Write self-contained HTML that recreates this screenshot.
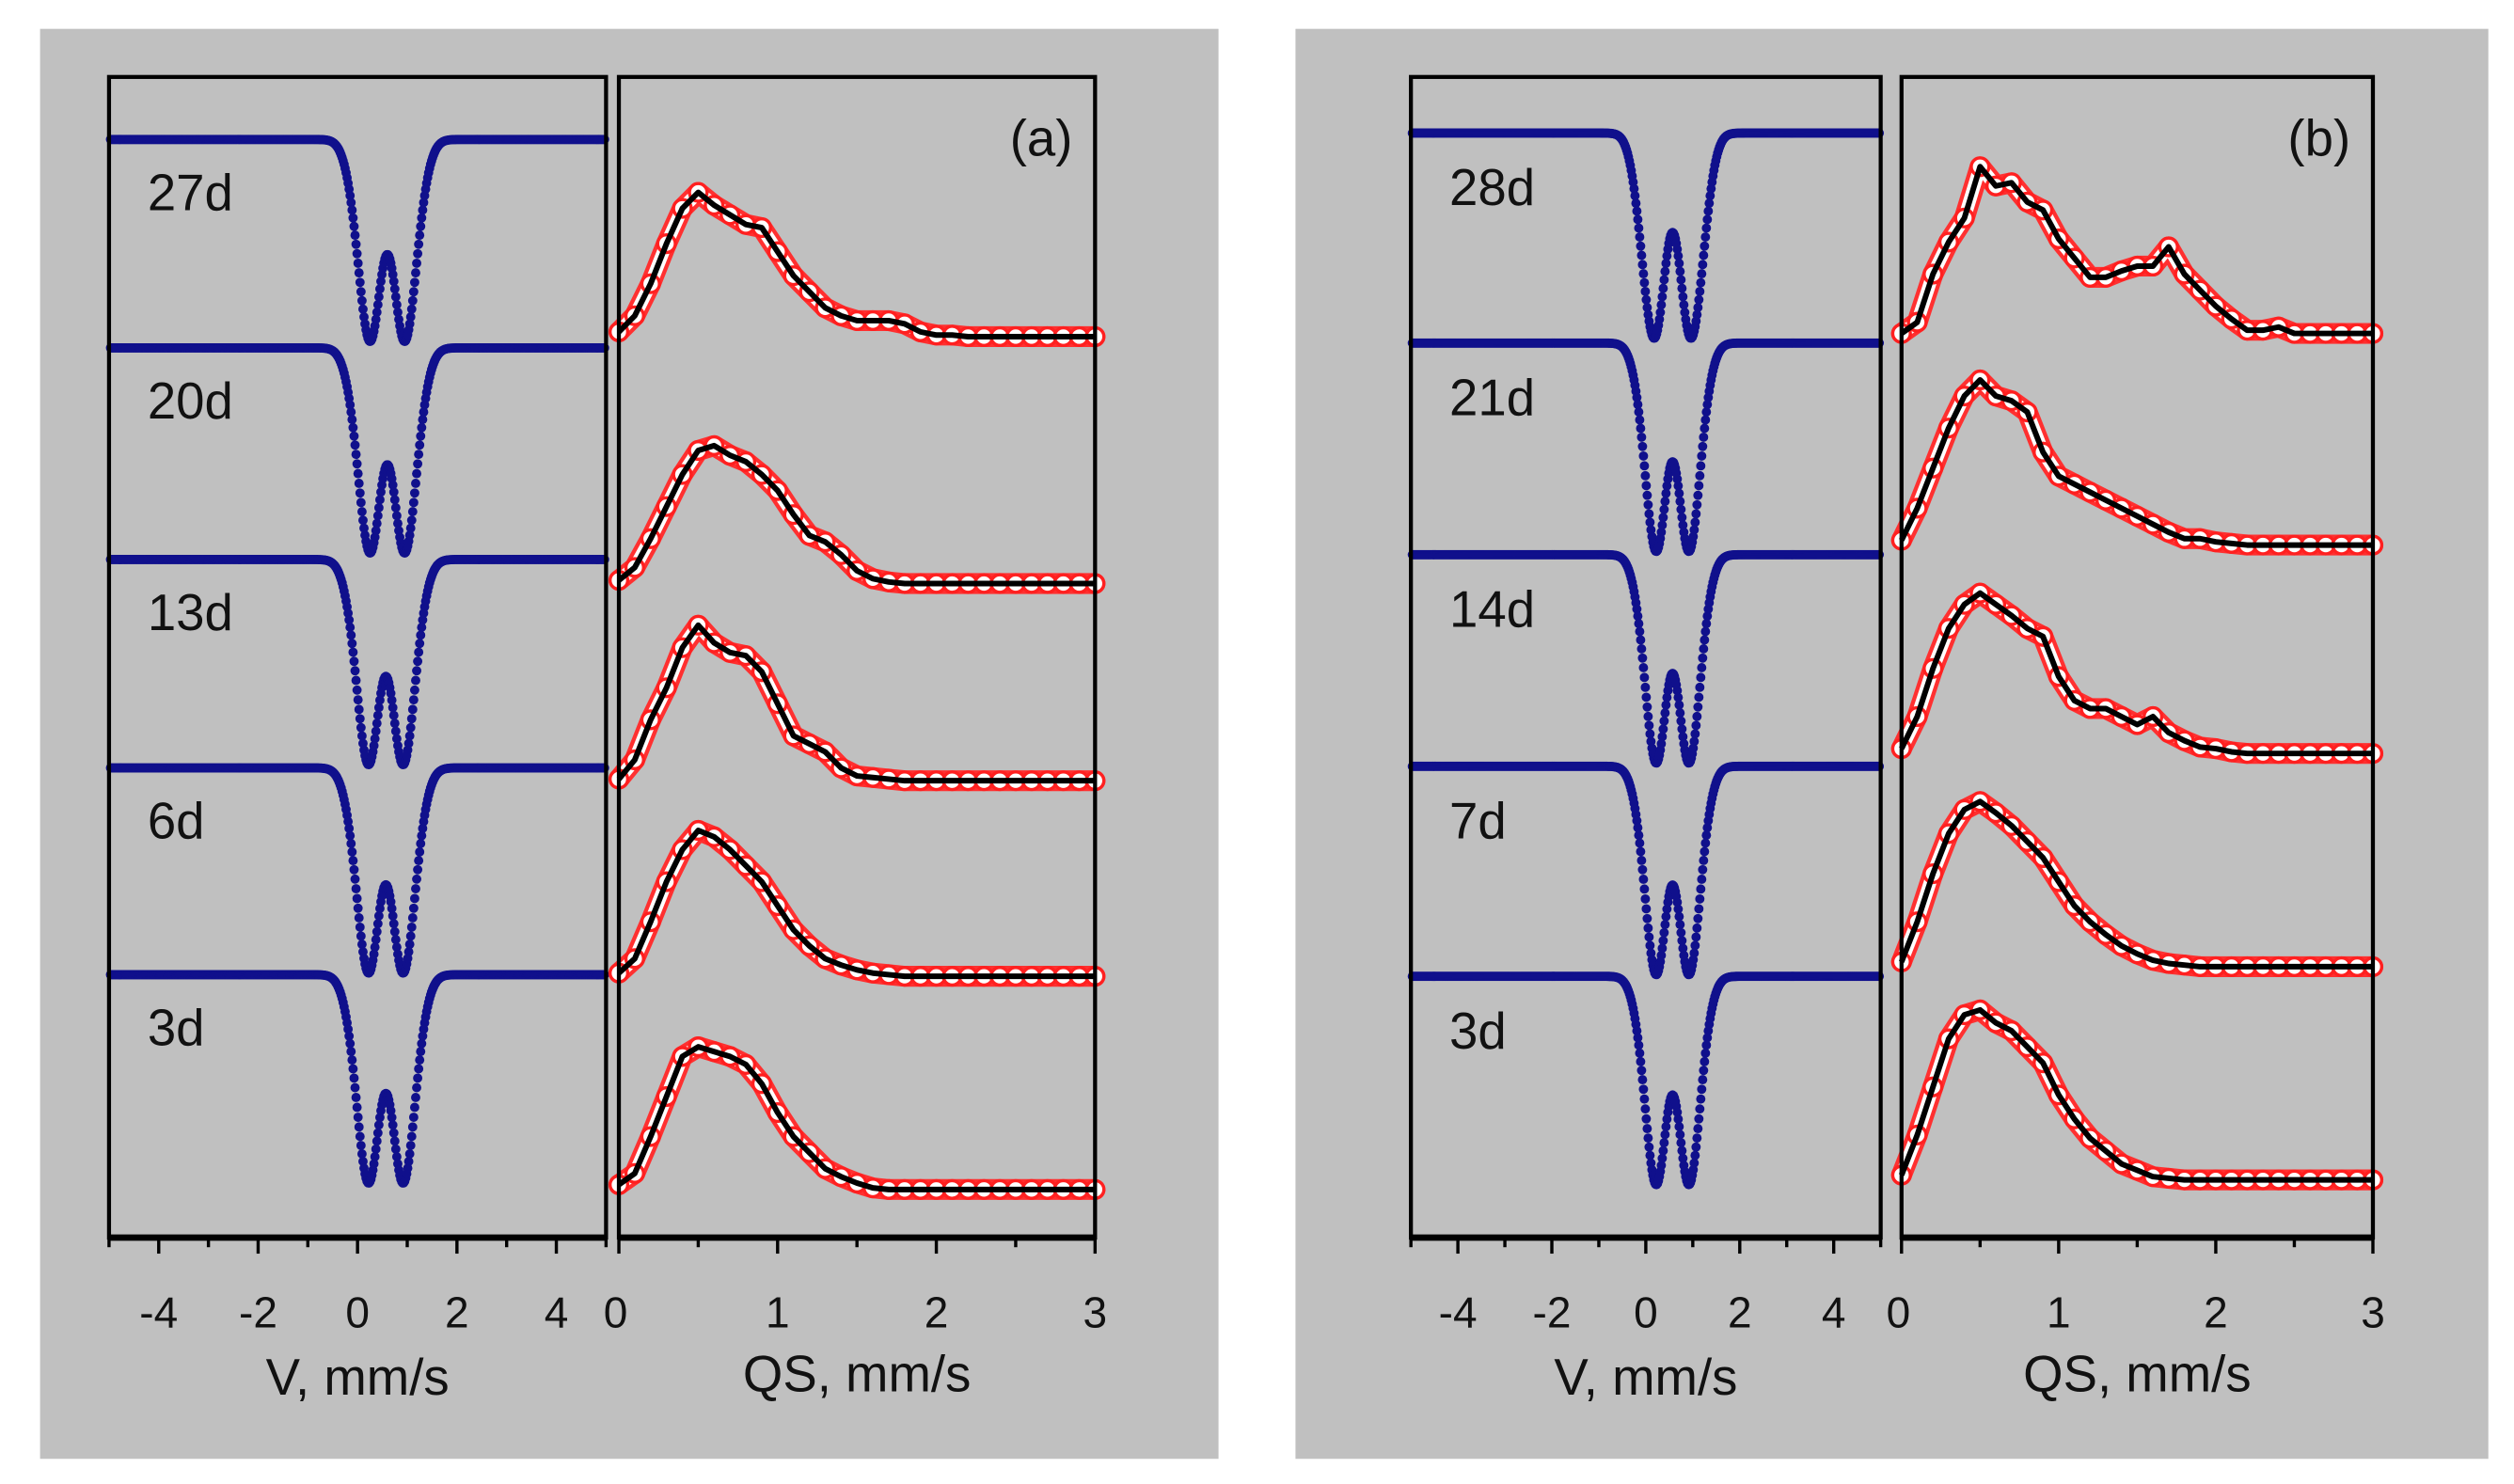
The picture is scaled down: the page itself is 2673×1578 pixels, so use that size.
<!DOCTYPE html>
<html><head><meta charset="utf-8"><style>
html,body{margin:0;padding:0;background:#fff}
svg{display:block}
text{font-family:"Liberation Sans",sans-serif;fill:#111}
</style></head><body>
<svg id="fig" width="2673" height="1578" viewBox="0 0 1568 925.7" preserveAspectRatio="none">
<rect x="25" y="18" width="735" height="892" fill="#c0c0c0"/>
<rect x="808" y="18" width="744" height="892" fill="#c0c0c0"/>
</svg>
<script>
// ---- data ----
const labelsA = ["27d","20d","13d","6d","3d"];
const labelsB = ["28d","21d","14d","7d","3d"];
const specBaseA = [87,217,349,479,608];
const specBaseB = [83,214,346,478,609];
const specDepthA = [126,128,128,128,130];
const specDepthB = [128,130,130,130,130];
const specCenterA = [0.6,0.6,0.57,0.57,0.57];
const specCenterB = [0.57,0.57,0.57,0.57,0.57];
const specSplitA = [0.63,0.63,0.63,0.63,0.63];
const specSplitB = [0.64,0.63,0.63,0.63,0.63];
const specShoulderA = [0.3,0.3,0.3,0.3,0.3];
const specShoulderB = [0.6,0.3,0.3,0.3,0.3];
const qsBaseA = [212,366,489,610,744];
const qsBaseB = [211,342,472,605,738];
const qsGrid = [0,0.1,0.2,0.3,0.4,0.5,0.6,0.7,0.8,0.9,1.0,1.1,1.2,1.3,1.4,1.5,1.6,1.7,1.8,1.9,2.0,2.1,2.2,2.3,2.4,2.5,2.6,2.7,2.8,2.9,3.0];
const qsA27 = [5,15,35,60,82,92,84,78,72,70,55,40,30,20,15,12,12,12,10,5,3,3,2,2,2,2,2,2,2,2,2];
const qsA20 = [4,12,30,50,70,85,88,82,78,70,60,45,32,28,20,10,5,3,2,2,2,2,2,2,2,2,2,2,2,2,2];
const qsA13 = [3,15,40,60,85,99,88,82,80,70,50,30,25,20,10,5,4,3,2,2,2,2,2,2,2,2,2,2,2,2,2];
const qsA6  = [3,12,35,60,80,92,88,80,70,60,45,30,20,12,8,5,3,2,1,1,1,1,1,1,1,1,1,1,1,1,1];
const qsA3  = [5,12,35,60,85,91,88,85,80,68,50,35,25,15,10,6,3,2,2,2,2,2,2,2,2,2,2,2,2,2,2];
const qsB28 = [3,10,40,60,75,107,95,97,85,80,62,50,38,38,42,45,45,57,40,30,20,12,5,5,7,3,3,3,3,3,3];
const qsB21 = [5,25,50,75,95,105,95,92,85,60,45,40,35,30,25,20,15,10,6,6,4,3,2,2,2,2,2,2,2,2,2];
const qsB14 = [5,25,55,80,95,102,95,88,80,75,50,35,30,30,25,20,25,15,10,6,5,3,2,2,2,2,2,2,2,2,2];
const qsB7  = [5,30,60,85,100,105,98,90,80,70,55,40,30,22,15,10,6,4,3,2,2,2,2,2,2,2,2,2,2,2,2];
const qsB3  = [5,30,60,90,105,108,100,95,85,75,55,40,28,20,12,8,4,3,2,2,2,2,2,2,2,2,2,2,2,2,2];
const qsA = [qsA27,qsA20,qsA13,qsA6,qsA3];
const qsB = [qsB28,qsB21,qsB14,qsB7,qsB3];
const vTicks = [-4,-2,0,2,4];
const qsTicks = [0,1,2,3];

// ---- drawing ----
const NS="http://www.w3.org/2000/svg";
const svg=document.getElementById('fig');
function mk(tag,attrs,parent){const e=document.createElementNS(NS,tag);for(const k in attrs)e.setAttribute(k,attrs[k]);(parent||svg).appendChild(e);return e;}
const G=(x,s)=>Math.exp(-x*x/(2*s*s));
function shape(v,c,s,w2){
  return G(v-c+s,0.21)+G(v-c-s,0.21)+w2*(G(v-c+s+0.25,0.22)+G(v-c-s-0.25,0.22));
}
function panel(p){
  const g=mk('g',{});
  
  
  const top=48,bot=772;
  const vx=v=>p.vL+(v+5)/10*(p.vR-p.vL);
  const qx=q=>p.qL+q/3*(p.qR-p.qL);
  for(let i=0;i<5;i++){
    const sg=mk('g',{},g);
    
    
    const c=p.center[i],s=p.split[i]/2,w2=p.shoulder[i];
    let mx=0;for(let v=-1;v<3;v+=0.01)mx=Math.max(mx,shape(v,c,s,w2));
    for(let v=-4.97;v<=4.97;v+=0.02){
      const f=shape(v,c,s,w2)/mx;
      const d=mk('circle',{cx:vx(v),cy:p.sBase[i]+p.depth[i]*f,r:2.9,fill:'#10108c'},sg);
      
      
    }
    const t=mk('text',{x:p.vL+24,y:p.sBase[i]+(p.id==='a'?44:45),'font-size':32},g);
    t.textContent=p.labels[i];
    
    
  }
  for(let i=0;i<5;i++){
    const arr=p.qs[i];
    const dg=mk('g',{},g);
    
    
    const pts=qsGrid.map((q,k)=>qx(q)+','+(p.qBase[i]-arr[k])).join(' ');
    const b1=mk('polyline',{points:pts,fill:'none',stroke:'#ff3030','stroke-width':13,'stroke-linejoin':'round','stroke-linecap':'round'},dg);
    
    const b2=mk('polyline',{points:pts,fill:'none',stroke:'#fff','stroke-width':8,'stroke-linejoin':'round','stroke-linecap':'round'},dg);
    
    qsGrid.forEach((q,k)=>{
      const c=mk('circle',{cx:qx(q),cy:p.qBase[i]-arr[k],r:5.5,fill:'#fff',stroke:'#ff2020','stroke-width':2},dg);
      
      
    });
    const l=mk('polyline',{points:pts,fill:'none',stroke:'#000','stroke-width':3.5,'stroke-linejoin':'round'},dg);
    
    
  }
  const f1=mk('rect',{x:p.vL,y:top,width:p.vR-p.vL,height:bot-top,fill:'none',stroke:'#000','stroke-width':2.5},g);
  
  const f2=mk('rect',{x:p.qL,y:top,width:p.qR-p.qL,height:bot-top,fill:'none',stroke:'#000','stroke-width':2.5},g);
  
  mk('line',{x1:p.vL,x2:p.vR,y1:bot,y2:bot,stroke:'#000','stroke-width':4},g);
  mk('line',{x1:p.qL,x2:p.qR,y1:bot,y2:bot,stroke:'#000','stroke-width':4},g);
  for(let v=-5;v<=5;v++){const M=v%2===0;mk('line',{x1:vx(v),x2:vx(v),y1:bot,y2:bot+(M?10:6),stroke:'#000','stroke-width':2},g);}
  for(let q=0;q<=3;q+=0.5){const M=q%1===0;mk('line',{x1:qx(q),x2:qx(q),y1:bot,y2:bot+(M?10:6),stroke:'#000','stroke-width':2},g);}
  vTicks.forEach(v=>{const t=mk('text',{x:vx(v),y:828,'font-size':27,'text-anchor':'middle'},g);t.textContent=v;});
  qsTicks.forEach(q=>{const t=mk('text',{x:qx(q)-(q===0?2:0),y:828,'font-size':27,'text-anchor':'middle'},g);t.textContent=q;});
  const x1=mk('text',{x:(p.vL+p.vR)/2,y:870,'font-size':32,'text-anchor':'middle'},g);x1.textContent='V, mm/s';
  
  const x2=mk('text',{x:(p.qL+p.qR)/2,y:868,'font-size':32,'text-anchor':'middle'},g);x2.textContent='QS, mm/s';
  
  const tag=mk('text',{x:p.qR-14,y:97,'font-size':32,'text-anchor':'end'},g);tag.textContent='('+p.id+')';
  
}
panel({id:'a',vL:68,vR:378,qL:386,qR:683,labels:labelsA,sBase:specBaseA,depth:specDepthA,center:specCenterA,split:specSplitA,shoulder:specShoulderA,qBase:qsBaseA,qs:qsA});
panel({id:'b',vL:880,vR:1173,qL:1186,qR:1480,labels:labelsB,sBase:specBaseB,depth:specDepthB,center:specCenterB,split:specSplitB,shoulder:specShoulderB,qBase:qsBaseB,qs:qsB});
</script>
</body></html>
